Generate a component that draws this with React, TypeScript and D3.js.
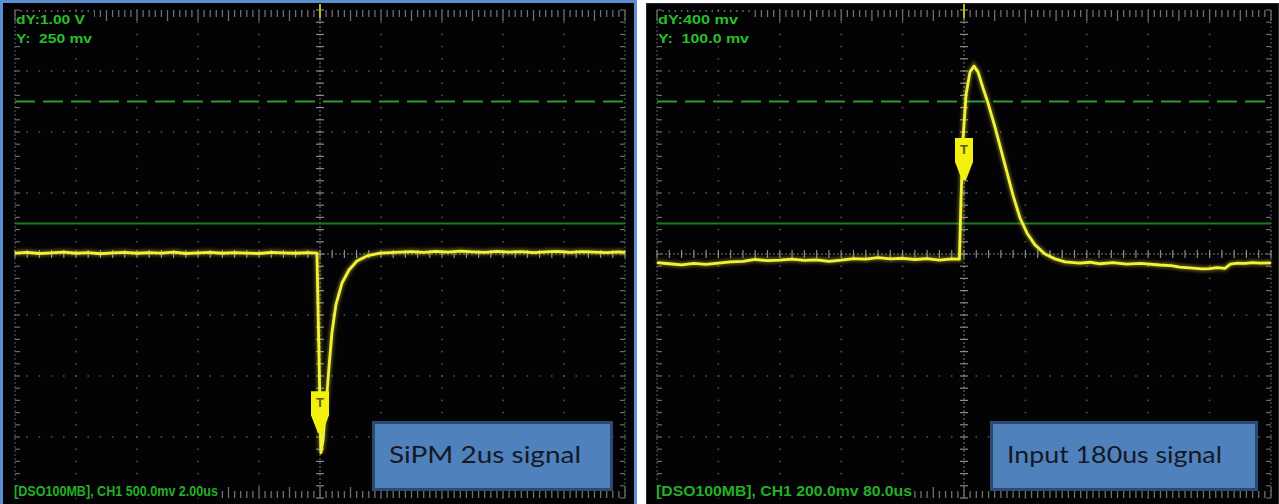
import React from "react";
import * as d3 from "d3";

// ---------- DATA ----------
// Left scope: SiPM signal, time in µs (2.00 µs/div), voltage in mV (500 mV/div)
const sipmTime = [
  -10, -9.6, -9.2, -8.8, -8.4, -8.0, -7.6, -7.2, -6.8, -6.4, -6.0, -5.6, -5.2, -4.8, -4.4,
  -4.0, -3.6, -3.2, -2.8, -2.4, -2.0, -1.6, -1.2, -0.8, -0.4, -0.1,
  0.03, 0.1, 0.16, 0.23, 0.3, 0.39, 0.52, 0.72, 0.95, 1.21, 1.54, 1.97, 2.62,
  3.0, 3.4, 3.8, 4.2, 4.6, 5.0, 5.4, 5.8, 6.2, 6.6, 7.0, 7.4, 7.8, 8.2, 8.6, 9.0, 9.4, 9.8, 10,
];
const sipmVoltage = [
  8, 14, 4, 10, 16, 6, 12, 2, 10, 14, 6, 12, 8, 16, 4, 10, 14, 6, 12, 8, 4, 14, 10, 6, 12, 8,
  -1630, -1525, -1320, -1139, -910, -648, -418, -238, -131, -57, -16, 8, 16,
  20, 14, 22, 16, 24, 18, 14, 22, 16, 20, 12, 18, 22, 14, 20, 16, 12, 18, 14,
];

// Right scope: input signal, time in µs (80.0 µs/div), voltage in mV (200 mV/div)
const inputTime = [
  -400, -384, -368, -352, -336, -320, -304, -288, -272, -256, -240, -224, -208, -192, -176,
  -160, -144, -128, -112, -96, -80, -64, -48, -32, -16, -6,
  -3.9, -1.3, 2.6, 7.8, 13, 18.2, 24.8, 31.3, 40.4, 53.4, 63.8, 73, 82, 92.5, 105.5, 118.6,
  131.6, 151, 164, 177, 194, 212, 230, 255, 270, 281, 298, 310, 320, 330, 340, 347, 356, 366,
  376, 386, 400,
];
const inputVoltage = [
  -28, -32, -36, -31, -34, -30, -26, -24, -18, -22, -20, -17, -21, -19, -24,
  -20, -15, -17, -12, -16, -14, -18, -15, -20, -16, -17,
  177, 374, 521, 597, 616, 597, 544, 495, 416, 292, 193, 118, 69, 30, 0, -16,
  -26, -30, -27, -32, -28, -33, -31, -36, -38, -43, -46, -49, -48, -45, -47, -33, -30, -31,
  -28, -30, -29,
];

const panels = [
  {
    key: "left",
    time: sipmTime,
    volt: sipmVoltage,
    tDiv: 2,
    vDiv: 500,
    trigger: -1470,
    header1: "dY:1.00 V",
    header2: "Y:  250 mv",
    footer: "[DSO100MB], CH1 500.0mv 2.00us",
    label: "SiPM 2us signal",
    dashedLevel: 1250,
    solidLevel: 250,
  },
  {
    key: "right",
    time: inputTime,
    volt: inputVoltage,
    tDiv: 80,
    vDiv: 200,
    trigger: 243,
    header1: "dY:400 mv",
    header2: "Y:  100.0 mv",
    footer: "[DSO100MB], CH1 200.0mv 80.0us",
    label: "Input 180us signal",
    dashedLevel: 500,
    solidLevel: 100,
  },
];

// ---------- LAYOUT ----------
const W = 1279;
const H = 504;
const layouts = [
  { gx0: 15, gx1: 625, gy0: 10, gy1: 498, bgX: 3, bgW: 632, boxX: 372, boxW: 241, labelW: 192 },
  { gx0: 657, gx1: 1271, gy0: 10, gy1: 498, bgX: 646, bgW: 633, boxX: 990, boxW: 268, labelW: 215 },
];

function Scope({ p, L }: { p: (typeof panels)[0]; L: (typeof layouts)[0] }) {
  const x = d3.scaleLinear().domain([-5 * p.tDiv, 5 * p.tDiv]).range([L.gx0, L.gx1]);
  const y = d3.scaleLinear().domain([-4 * p.vDiv, 4 * p.vDiv]).range([L.gy1, L.gy0]);
  const divX = (L.gx1 - L.gx0) / 10;
  const divY = (L.gy1 - L.gy0) / 8;
  const cx = x(0);
  const cy = y(0);

  const pts: [number, number][] = p.time.map((t, i) => [t, p.volt[i]]);
  const line = d3
    .line<[number, number]>()
    .x((d) => x(d[0]))
    .y((d) => y(d[1]))
    .curve(d3.curveLinear);
  const pathD = line(pts) || "";

  const dots: React.ReactNode[] = [];
  for (let i = 1; i < 10; i++) {
    if (i === 5) continue;
    const xx = L.gx0 + i * divX;
    for (let j = 0; j <= 40; j++) {
      const yy = L.gy0 + (j * divY) / 5;
      dots.push(<rect key={`v${i}-${j}`} x={xx - 0.8} y={yy - 0.8} width={1.6} height={1.6} fill="#505050" />);
    }
  }
  for (let k = 1; k < 8; k++) {
    if (k === 4) continue;
    const yy = L.gy0 + k * divY;
    for (let j = 0; j <= 50; j++) {
      const xx = L.gx0 + (j * divX) / 5;
      dots.push(<rect key={`h${k}-${j}`} x={xx - 0.8} y={yy - 0.8} width={1.6} height={1.6} fill="#505050" />);
    }
  }

  const ticks: React.ReactNode[] = [];
  for (let j = 0; j <= 50; j++) {
    const xx = L.gx0 + (j * divX) / 5;
    ticks.push(<line key={`ch${j}`} x1={xx} x2={xx} y1={cy - 4} y2={cy + 4} stroke="#8a8a8a" strokeWidth={1.2} />);
  }
  for (let j = 0; j <= 40; j++) {
    const yy = L.gy0 + (j * divY) / 5;
    ticks.push(<line key={`cv${j}`} x1={cx - 4} x2={cx + 4} y1={yy} y2={yy} stroke="#8a8a8a" strokeWidth={1.2} />);
    ticks.push(<line key={`el${j}`} x1={L.gx0} x2={L.gx0 + 5} y1={yy} y2={yy} stroke="#6a6a6a" strokeWidth={1.2} />);
    ticks.push(<line key={`er${j}`} x1={L.gx1 - 5} x2={L.gx1} y1={yy} y2={yy} stroke="#6a6a6a" strokeWidth={1.2} />);
  }
  for (let j = 0; j <= 100; j++) {
    const xx = L.gx0 + (j * divX) / 10;
    const len = j % 5 === 0 ? 11 : 7;
    ticks.push(<line key={`rt${j}`} x1={xx} x2={xx} y1={L.gy0} y2={L.gy0 + len} stroke="#6f6f6f" strokeWidth={1.3} />);
    ticks.push(<line key={`rb${j}`} x1={xx} x2={xx} y1={L.gy1} y2={L.gy1 - len} stroke="#6f6f6f" strokeWidth={1.3} />);
  }

  const tipY = y(p.trigger);
  const mW = 18;
  const marker = `M${cx - mW / 2},${tipY - 42} L${cx + mW / 2},${tipY - 42} L${cx + mW / 2},${tipY - 18} L${cx + 2},${tipY} L${cx - 2},${tipY} L${cx - mW / 2},${tipY - 18} Z`;

  const font = "Liberation Sans, Arial, sans-serif";
  return (
    <g>
      <rect x={L.bgX} y={3} width={L.bgW} height={H - 3} fill="#030305" />
      {dots}
      <line x1={L.gx0} x2={L.gx0} y1={L.gy0} y2={L.gy1} stroke="#5c5c5c" strokeWidth={1} strokeDasharray="2 2" />
      <line x1={L.gx1} x2={L.gx1} y1={L.gy0} y2={L.gy1} stroke="#5c5c5c" strokeWidth={1} strokeDasharray="2 2" />
      <line x1={L.gx0} x2={L.gx1} y1={cy} y2={cy} stroke="#7a7a7a" strokeWidth={1} strokeDasharray="2 2" />
      <line x1={cx} x2={cx} y1={L.gy0} y2={L.gy1} stroke="#7a7a7a" strokeWidth={1} strokeDasharray="2 2" />
      {ticks}
      <line x1={L.gx0} x2={L.gx1} y1={y(p.dashedLevel)} y2={y(p.dashedLevel)} stroke="#2f9a2f" strokeWidth={2} strokeDasharray="20 8" />
      <line x1={L.gx0} x2={L.gx1} y1={y(p.solidLevel)} y2={y(p.solidLevel)} stroke="#1e7a22" strokeWidth={2} />
      <line x1={cx} x2={cx} y1={4} y2={18} stroke="#b8b820" strokeWidth={2} />
      <path d={pathD} fill="none" stroke="#e6e62a" strokeWidth={6} strokeOpacity={0.35} filter="url(#glow)" />
      <path d={pathD} fill="none" stroke="#f2f23a" strokeWidth={2.8} strokeLinejoin="round" />
      <path d={marker} fill="#f2f20e" />
      <text x={cx} y={tipY - 26} textAnchor="middle" fontSize={13} fontWeight="bold" fontFamily={font} fill="#5a5a28">
        T
      </text>
      <rect x={L.gx0 + 1} y={12} width={p.key === "left" ? 78 : 92} height={34} fill="#030305" />
      <text x={L.gx0 + 1} y={24} fontSize={13} fontWeight="bold" fontFamily={font} fill="#28c028" textLength={p.key === "left" ? 69 : 80} lengthAdjust="spacingAndGlyphs" style={{ whiteSpace: "pre" }}>
        {p.header1}
      </text>
      <text x={L.gx0 + 1} y={43} fontSize={13} fontWeight="bold" fontFamily={font} fill="#28c028" textLength={p.key === "left" ? 76 : 91} lengthAdjust="spacingAndGlyphs" style={{ whiteSpace: "pre" }}>
        {p.header2}
      </text>
      <rect x={L.gx0 - 2} y={481} width={p.key === "left" ? 206 : 258} height={17} fill="#030305" />
      <text x={L.gx0 - 1} y={496} fontSize={14} fontWeight="bold" fontFamily={font} fill="#24b024" textLength={p.key === "left" ? 204 : 256} lengthAdjust="spacingAndGlyphs">
        {p.footer}
      </text>
      <rect x={L.boxX + 1.5} y={422.5} width={L.boxW - 3} height={67} fill="#4f81bd" stroke="#2c4a70" strokeWidth={3} />
      <text x={L.boxX + 17} y={463} fontSize={23} fontFamily="Lato, 'Open Sans', sans-serif" fill="#141824" textLength={L.labelW} lengthAdjust="spacingAndGlyphs">
        {p.label}
      </text>
    </g>
  );
}

export default function App() {
  return (
    <svg
      width={W}
      height={H}
      viewBox={`0 0 ${W} ${H}`}
      style={{ position: "absolute", left: 0, top: 0, background: "#ffffff" }}
    >
      <defs>
        <filter id="glow" x="-5%" y="-5%" width="110%" height="110%">
          <feGaussianBlur stdDeviation={1.6} />
        </filter>
      </defs>
      <Scope p={panels[0]} L={layouts[0]} />
      <Scope p={panels[1]} L={layouts[1]} />
      <rect x={1.5} y={1.5} width={634} height={H + 4} fill="none" stroke="#5b8fd0" strokeWidth={3} />
      <rect x={646.5} y={3.5} width={632} height={H} fill="none" stroke="#2a2a2a" strokeWidth={1} />
    </svg>
  );
}
